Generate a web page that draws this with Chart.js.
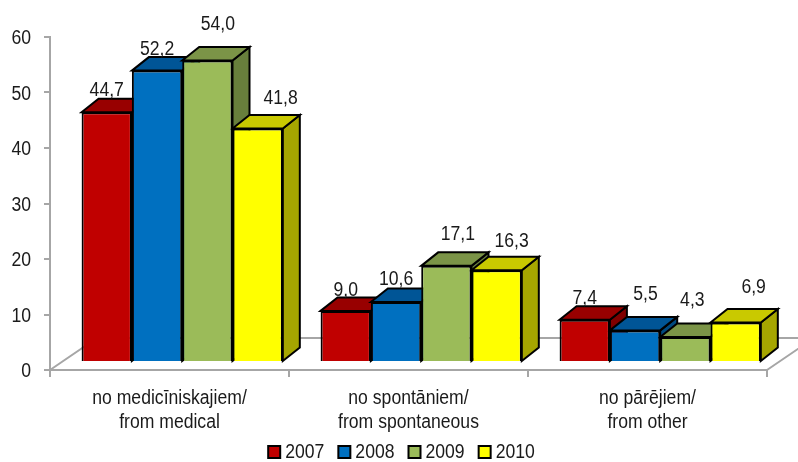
<!DOCTYPE html>
<html><head><meta charset="utf-8">
<style>html,body{margin:0;padding:0;background:#fff}#w{width:798px;height:462px}</style>
<script src="https://cdn.jsdelivr.net/npm/chart.js@4"></script>
</head><body><div id="w"><canvas id="c" width="798" height="462"></canvas></div>
<script>
const categories = [["no medicīniskajiem/","from medical"],["no spontāniem/","from spontaneous"],["no pārējiem/","from other"]];
const yTicks = [0,10,20,30,40,50,60];
const seriesNames = ["2007","2008","2009","2010"];
const s2007 = [44.7,9.0,7.4];
const s2008 = [52.2,10.6,5.5];
const s2009 = [54.0,17.1,4.3];
const s2010 = [41.8,16.3,6.9];
const fronts = ["#C00000","#0070C0","#9BBB59","#FFFF00"];
const tops   = ["#980000","#005596","#7B9447","#C9C900"];
const sides  = ["#800000","#004A80","#687F3C","#A6A600"];
const labelNudge = [
  [[0,-16],[0,-15],[0,-16]],
  [[0,-15.5],[0,-17],[10.5,-30.5]],
  [[10.5,-30.5],[11.5,-26],[7,-31]],
  [[23,-24],[15,-23.6],[18,-30]]
];
const FONT = '"Liberation Sans",Arial,sans-serif';
const SIZE = 20, SQUEEZE = 0.88;
const DX=17, DY=13.5, SHIFT=12.7;

// The reference type is a horizontally condensed sans: squeeze all real text drawn on this canvas.
const cv=document.getElementById('c'), g=cv.getContext('2d');
const ft=g.fillText.bind(g), mt=g.measureText.bind(g);
let textDx=0;
g.fillText=function(t,x,y,m){
  const dy=g.textAlign==='right'?1.5:0; // value-axis labels sit slightly below their ticks
  g.save();g.translate(x+textDx,y+dy);g.scale(SQUEEZE,1);ft(t,0,0);g.restore();
};
g.measureText=function(t){const r=mt(t);return {width:r.width*SQUEEZE,actualBoundingBoxAscent:r.actualBoundingBoxAscent,actualBoundingBoxDescent:r.actualBoundingBoxDescent};};

const scene = {
  id:'scene',
  beforeLayout(ch){
    const lg=ch.legend;
    if(lg&&!lg._patched){
      lg._patched=true;
      const d=lg.draw;
      lg.draw=function(){g.save();g.translate(5,1);textDx=-5;d.call(this);textDx=0;g.restore();};
    }
  },
  beforeDatasetsDraw(ch){
    const c=ch.ctx,a=ch.chartArea;
    c.save();
    c.strokeStyle='#A6A6A6';c.lineWidth=2;
    c.beginPath();
    c.moveTo(a.left,a.bottom);c.lineTo(a.left+47,a.bottom-32);c.lineTo(798,a.bottom-32);
    c.moveTo(a.right,a.bottom);c.lineTo(a.right+47,a.bottom-32);
    c.stroke();
    c.restore();
    c.save();c.translate(SHIFT,0);
    // tops and sides, left to right, so each bar covers the one before it
    c.lineJoin='miter';c.strokeStyle='#000';c.lineWidth=2;
    ch.data.labels.forEach((_,j)=>{
      ch.data.datasets.forEach((ds,i)=>{
        const el=ch.getDatasetMeta(i).data[j],l=el.x-el.width/2,r=el.x+el.width/2,y=el.y,b=el.base;
        c.fillStyle=sides[i];c.beginPath();
        c.moveTo(r,y);c.lineTo(r+DX,y-DY);c.lineTo(r+DX,b-DY);c.lineTo(r,b);c.closePath();c.fill();c.stroke();
        c.fillStyle=tops[i];c.beginPath();
        c.moveTo(l,y);c.lineTo(l+DX,y-DY);c.lineTo(r+DX,y-DY);c.lineTo(r,y);c.closePath();c.fill();c.stroke();
      });
    });
  },
  afterDatasetsDraw(ch){
    const c=ch.ctx;
    c.fillStyle='#1a1a1a';c.font=SIZE+'px '+FONT;c.textAlign='center';c.textBaseline='alphabetic';
    ch.data.datasets.forEach((ds,i)=>{
      ch.getDatasetMeta(i).data.forEach((el,j)=>{
        const n=labelNudge[i][j];
        c.fillText(ds.data[j].toFixed(1).replace('.',','),el.x+n[0],el.y+n[1]);
      });
    });
    c.restore();
  }
};
const mk=(name,data,i)=>({label:name,data,yAxisID:'yb',backgroundColor:fronts[i],borderColor:'#000',borderWidth:2});
const chart=new Chart(cv,{
  type:'bar',
  data:{labels:categories,datasets:[mk(seriesNames[0],s2007,0),mk(seriesNames[1],s2008,1),mk(seriesNames[2],s2009,2),mk(seriesNames[3],s2010,3)]},
  plugins:[scene],
  options:{
    responsive:false,animation:false,
    layout:{padding:{left:0,right:0,top:37,bottom:-9}},
    datasets:{bar:{barPercentage:1,categoryPercentage:0.842}},
    scales:{
      x:{
        grid:{display:true,drawOnChartArea:false,drawTicks:true,tickLength:7,color:'#A6A6A6',lineWidth:2,offset:true},
        border:{color:'#A6A6A6',width:2},
        ticks:{color:'#1a1a1a',font:{family:FONT,size:SIZE,lineHeight:1.2},maxRotation:0,autoSkip:false,padding:9},
        afterFit(s){s.height=62;}
      },
      y:{
        min:0,max:60,
        afterBuildTicks(s){s.ticks=yTicks.map(v=>({value:v}));},
        grid:{drawOnChartArea:false,tickLength:6,color:'#A6A6A6',lineWidth:2},
        border:{color:'#A6A6A6',width:2},
        ticks:{color:'#1a1a1a',font:{family:FONT,size:SIZE},padding:13},
        afterFit(s){s.width=50;}
      },
      yb:{display:true,position:'right',min:-1.623,max:58.24,
        grid:{display:false},border:{display:false},ticks:{display:false},
        afterFit(s){s.width=31;}}
    },
    plugins:{
      tooltip:{enabled:false},
      legend:{position:'bottom',labels:{boxWidth:12,boxHeight:12,padding:9,color:'#1a1a1a',font:{family:FONT,size:SIZE}}}
    }
  }
});
</script></body></html>
